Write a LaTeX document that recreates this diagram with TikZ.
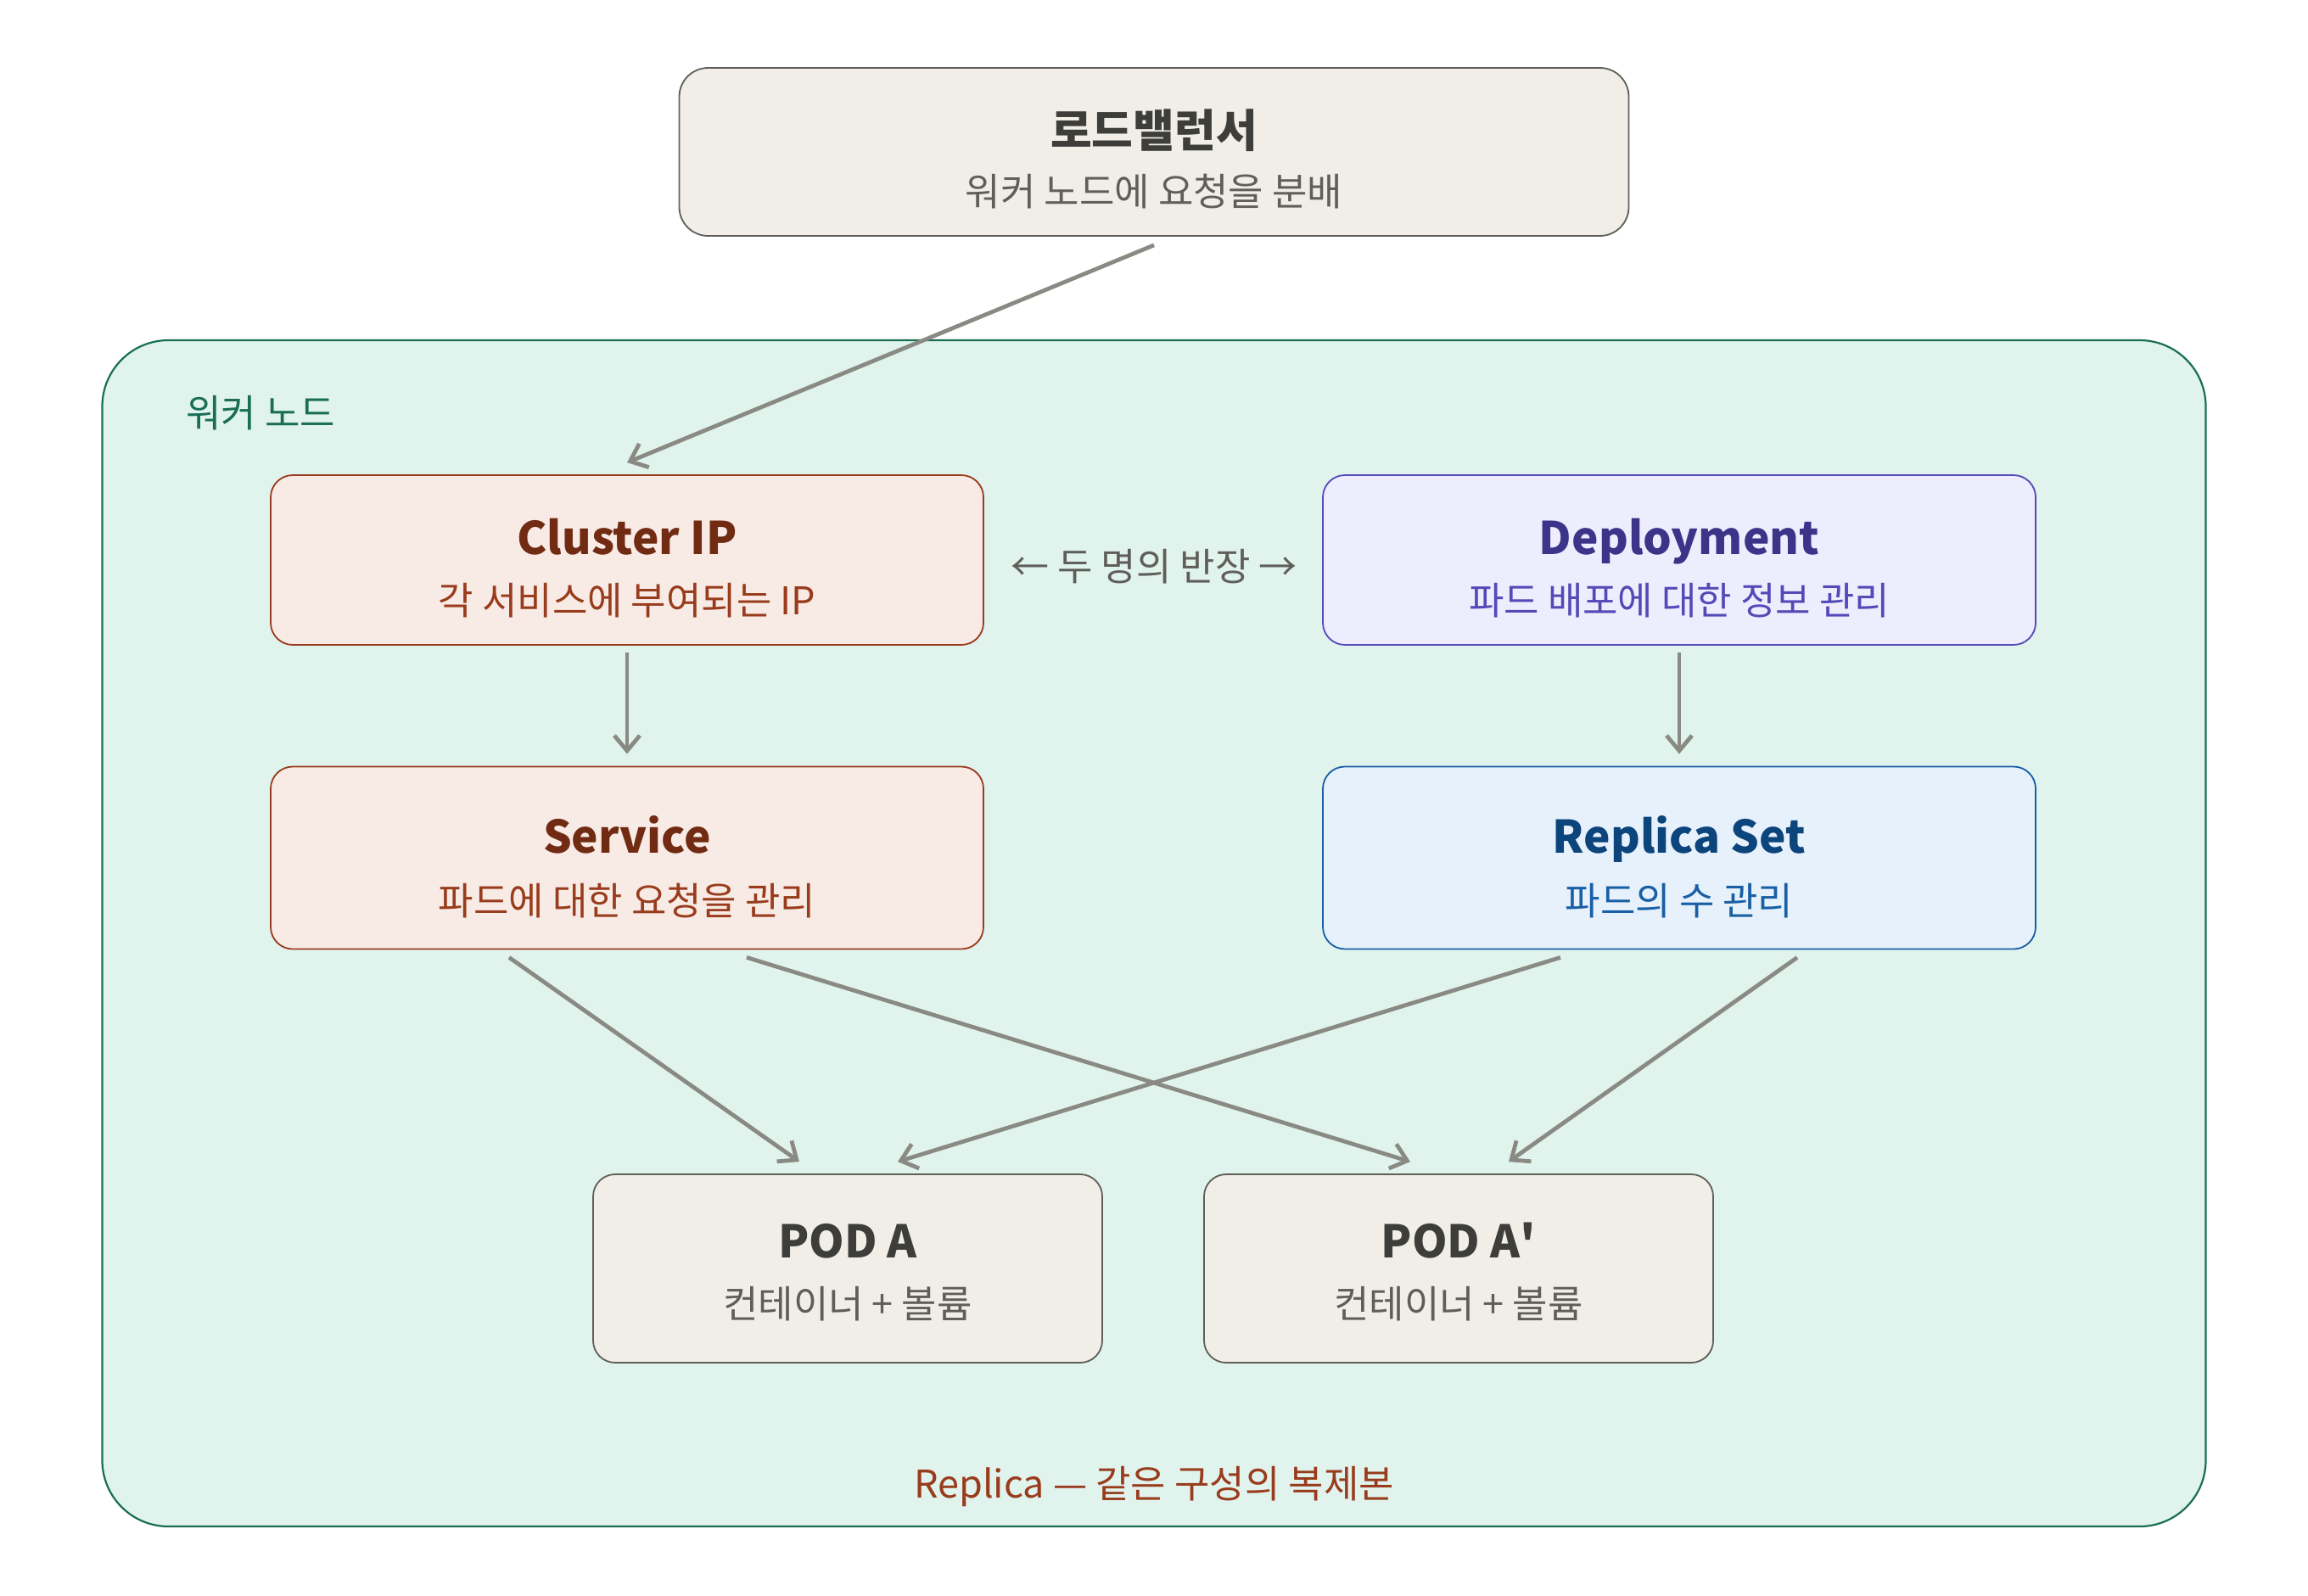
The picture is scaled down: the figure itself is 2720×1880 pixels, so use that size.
\documentclass[tikz,border=0pt]{standalone}
\usepackage{fontspec}
\setmainfont{Noto Sans CJK KR}
\newfontfamily\krplain{Noto Sans CJK KR}
\usetikzlibrary{arrows.meta}
\definecolor{lbF}{HTML}{F1EEE8}
\definecolor{lbD}{HTML}{5F5E5A}
\definecolor{lbT}{HTML}{3D3D3A}
\definecolor{lbS}{HTML}{5F5E5A}
\definecolor{wkF}{HTML}{E0F3EC}
\definecolor{wkD}{HTML}{1A6E55}
\definecolor{rdF}{HTML}{F8EBE5}
\definecolor{rdD}{HTML}{9A3A1E}
\definecolor{rdT}{HTML}{712B13}
\definecolor{rdS}{HTML}{993C1D}
\definecolor{puF}{HTML}{EEEDFE}
\definecolor{puD}{HTML}{534AB7}
\definecolor{puT}{HTML}{3C3489}
\definecolor{buF}{HTML}{E6F1FB}
\definecolor{buD}{HTML}{185FA5}
\definecolor{buT}{HTML}{0C447C}
\definecolor{arrC}{HTML}{8A8A84}
\begin{document}
\begin{tikzpicture}[x=0.5pt,y=-0.5pt,
  box/.style={draw, line width=0.9pt, rounded corners=13pt, inner sep=0pt},
  titletext/.style={font=\fontsize{26.5}{30}\selectfont\bfseries, inner sep=0pt, anchor=base},
  subtext/.style={font=\fontsize{22.5}{26}\selectfont, inner sep=0pt},
  arr/.style={draw=arrC, line width=2.4pt, -{Straight Barb[length=9pt,width=15pt,line width=2.4pt]}}
]
\useasboundingbox (0,0) rectangle (2720,1880);
\fill[white] (0,0) rectangle (2720,1880);

% load balancer
\node[box, fill=lbF, draw=lbD, rounded corners=17pt, minimum width=559.5pt, minimum height=99pt] (lb) at (1360,179) {};
\node[titletext, text=lbT] (lbt) at (1360,173) {로드밸런서};
\node[subtext, text=lbS] (lbs) at (1360,226) {워커 노드에 요청을 분배};

% worker node
\node[draw=wkD, fill=wkF, line width=1.1pt, rounded corners=39pt, minimum width=1239.5pt, minimum height=699pt, inner sep=0pt] (wk) at (1360,1100) {};
\node[subtext, text=wkD, anchor=west] (wkl) at (219,487) {워커 노드};

% cluster IP
\node[box, fill=rdF, draw=rdD, minimum width=420pt, minimum height=100pt] (cip) at (739,660) {};
\node[titletext, text=rdT] (cipt) at (739,653) {Cluster IP};
\node[subtext, text=rdS] (cips) at (739,708) {각 서비스에 부여되는 IP};

% deployment
\node[box, fill=puF, draw=puD, minimum width=420pt, minimum height=100pt] (dep) at (1979,660) {};
\node[titletext, text=puT] (dept) at (1979,653) {Deployment};
\node[subtext, text=puD] (deps) at (1979,708) {파드 배포에 대한 정보 관리};

% middle text
\node[subtext, text=lbS] (mid) at (1360,668) {← 두 명의 반장 →};

% service
\node[box, fill=rdF, draw=rdD, minimum width=420pt, minimum height=107.5pt] (svc) at (739,1011) {};
\node[titletext, text=rdT] (svct) at (739,1005) {Service};
\node[subtext, text=rdS] (svcs) at (739,1062) {파드에 대한 요청을 관리};

% replica set
\node[box, fill=buF, draw=buD, minimum width=420pt, minimum height=107.5pt] (rs) at (1979,1011) {};
\node[titletext, text=buT] (rst) at (1979,1005) {Replica Set};
\node[subtext, text=buD] (rss) at (1979,1062) {파드의 수 관리};

% pods
\node[box, fill=lbF, draw=lbD, minimum width=300pt, minimum height=111pt] (poda) at (999,1495) {};
\node[titletext, text=lbT] (podat) at (999,1482) {POD A};
\node[subtext, text=lbS] (podas) at (999,1537) {컨테이너 + 볼륨};
\node[box, fill=lbF, draw=lbD, minimum width=300pt, minimum height=111pt] (podb) at (1719,1495) {};
\node[titletext, text=lbT] (podbt) at (1719,1482) {POD A{\krplain\bfseries '}};
\node[subtext, text=lbS] (podbs) at (1719,1537) {컨테이너 + 볼륨};

% bottom label
\node[subtext, text=rdS] (rep) at (1360,1752) {Replica — 같은 구성의 복제본};

% arrows
\draw[arr] ([yshift=-5pt]lb.south) -- ([yshift=7pt]cip.north);
\draw[arr] ([yshift=-4pt]cip.south) -- ([yshift=7pt]svc.north);
\draw[arr] ([yshift=-4pt]dep.south) -- ([yshift=7pt]rs.north);
\draw[arr] ([xshift=-69.5pt,yshift=-4.5pt]svc.south) -- ([xshift=-28.5pt,yshift=7pt]poda.north);
\draw[arr] ([xshift=70.5pt,yshift=-4.5pt]svc.south) -- ([xshift=-28.5pt,yshift=7pt]podb.north);
\draw[arr] ([xshift=-70pt,yshift=-4.5pt]rs.south) -- ([xshift=29.5pt,yshift=7pt]poda.north);
\draw[arr] ([xshift=69.5pt,yshift=-4.5pt]rs.south) -- ([xshift=29.5pt,yshift=7pt]podb.north);
\end{tikzpicture}
\end{document}
